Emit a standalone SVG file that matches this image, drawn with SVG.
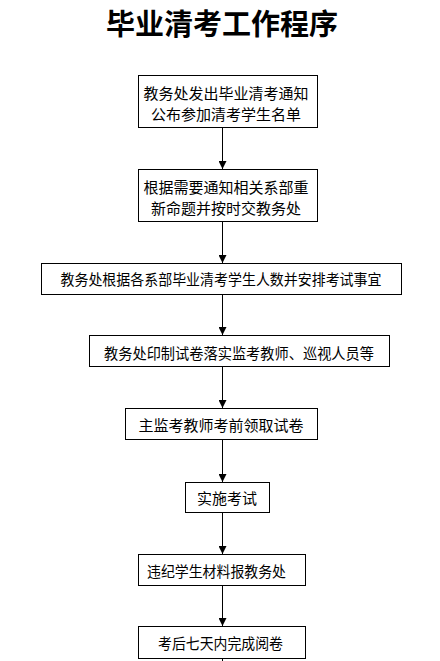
<svg xmlns="http://www.w3.org/2000/svg" width="440" height="661" viewBox="0 0 440 661">
<defs>
<style>
.box{fill:#fff;stroke:#000;stroke-width:1}
.t{font-family:"Noto Sans CJK SC","Liberation Sans",sans-serif;font-size:15px;fill:#000;text-anchor:middle;dominant-baseline:central}
.ln{stroke:#000;stroke-width:1;fill:none}
.title{font-family:"Noto Sans CJK SC","Liberation Serif",serif;font-size:29px;font-weight:bold;fill:#000;text-anchor:middle}
</style>
<marker id="ah" markerWidth="8" markerHeight="8" refX="8" refY="4" orient="auto" markerUnits="userSpaceOnUse">
<path d="M0,0 L8,4 L0,8 Z" fill="#000"/>
</marker>
</defs>
<rect width="440" height="661" fill="#fff"/>
<text class="title" x="222" y="35">毕业清考工作程序</text>
<g id="connectors">
<line class="ln" x1="222.5" y1="127" x2="222.5" y2="169" marker-end="url(#ah)"/>
<line class="ln" x1="222.5" y1="221" x2="222.5" y2="263" marker-end="url(#ah)"/>
<line class="ln" x1="222.5" y1="294" x2="222.5" y2="335" marker-end="url(#ah)"/>
<line class="ln" x1="222.5" y1="366" x2="222.5" y2="408" marker-end="url(#ah)"/>
<line class="ln" x1="222.5" y1="439" x2="222.5" y2="482" marker-end="url(#ah)"/>
<line class="ln" x1="222.5" y1="512" x2="222.5" y2="554" marker-end="url(#ah)"/>
<line class="ln" x1="222.5" y1="585" x2="222.5" y2="626" marker-end="url(#ah)"/>
<line class="ln" x1="222.5" y1="658" x2="222.5" y2="661"/>
</g>
<g id="n1">
<rect class="box" x="138.5" y="75.5" width="179" height="52"/>
<text class="t" x="226" y="92">教务处发出毕业清考通知</text>
<text class="t" x="226" y="113">公布参加清考学生名单</text>
</g>
<g id="n2">
<rect class="box" x="138.5" y="169.5" width="179" height="52"/>
<text class="t" x="226" y="186">根据需要通知相关系部重</text>
<text class="t" x="226" y="207">新命题并按时交教务处</text>
</g>
<g id="n3">
<rect class="box" x="41.5" y="263.5" width="360" height="31"/>
<text class="t" x="221" y="278" textLength="321" lengthAdjust="spacingAndGlyphs">教务处根据各系部毕业清考学生人数并安排考试事宜</text>
</g>
<g id="n4">
<rect class="box" x="89.5" y="335.5" width="300" height="31"/>
<text class="t" x="239" y="352" textLength="270" lengthAdjust="spacingAndGlyphs">教务处印制试卷落实监考教师、巡视人员等</text>
</g>
<g id="n5">
<rect class="box" x="125.5" y="408.5" width="192" height="31"/>
<text class="t" x="221" y="424">主监考教师考前领取试卷</text>
</g>
<g id="n6">
<rect class="box" x="185.5" y="482.5" width="84" height="30"/>
<text class="t" x="227" y="497">实施考试</text>
</g>
<g id="n7">
<rect class="box" x="138.5" y="554.5" width="167" height="31"/>
<text class="t" x="216.5" y="570" textLength="139" lengthAdjust="spacingAndGlyphs">违纪学生材料报教务处</text>
</g>
<g id="n8">
<rect class="box" x="138.5" y="626.5" width="167" height="32"/>
<text class="t" x="220.5" y="642" textLength="125" lengthAdjust="spacingAndGlyphs">考后七天内完成阅卷</text>
</g>
</svg>
